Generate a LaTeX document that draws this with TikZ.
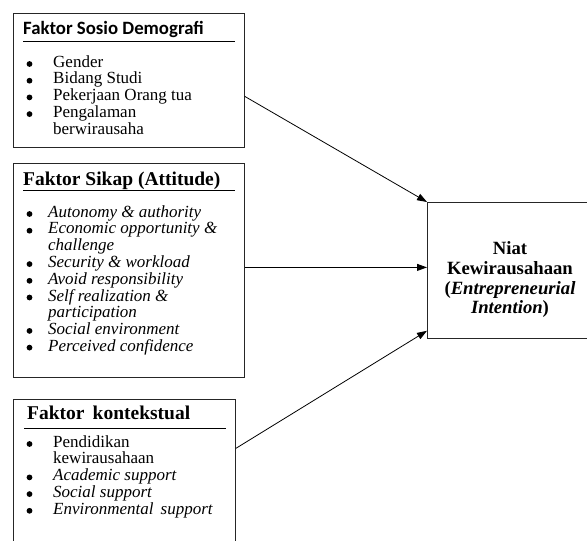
\documentclass[tikz,border=0pt]{standalone}
\usepackage{fontspec}
\setmainfont{Liberation Serif}
\newfontfamily\judulsans{Carlito}
\usepackage{tikz}
\usetikzlibrary{arrows.meta,positioning}

\begin{document}
\begin{tikzpicture}[x=1pt,y=-1pt,
    faktor/.style={draw=black!85,line width=0.8pt,anchor=north west,inner sep=0pt},
    judul/.style={anchor=base west,inner sep=0pt,font=\fontsize{19.5}{20}\selectfont\bfseries},
    butir/.style={anchor=base west,inner sep=0pt,font=\fontsize{17}{16.7}\selectfont},
    garis/.style={line width=0.8pt},
    panah/.style={-{Triangle[length=10pt,width=7pt]},line width=0.8pt}]
    \clip (0,0) rectangle (587,541);
    % kotak faktor
    \node[faktor,minimum width=231pt,minimum height=134pt] (sosio) at (13,13) {};
    \node[faktor,minimum width=231pt,minimum height=214pt] (sikap) at (13,163) {};
    \node[faktor,minimum width=222pt,minimum height=160pt] (konteks) at (13,399) {};
    \node[faktor,minimum width=166pt,minimum height=136pt] (niat) at (427,202) {};
    % judul
    \node[judul,font=\fontsize{18.8}{20}\selectfont\judulsans\bfseries] (sosiojudul) at (23,34) {Faktor Sosio Demografi};
    \node[judul] (sikapjudul) at (23,185) {Faktor Sikap (Attitude)};
    \node[judul] (kontekjudul) at (27,419) {Faktor\, kontekstual};
    \draw[garis] (23,41) -- (235,41);
    \draw[garis] (23,190) -- (235,190);
    \draw[garis] (24,428) -- (226,428);
    % butir
    \node[butir] (sosiolist) at (53,67) {\begin{tabular}[t]{@{}l@{}}
        Gender\\
        Bidang Studi\\
        Pekerjaan Orang tua\\
        Pengalaman\\
        berwirausaha
    \end{tabular}};
    \node[butir] (sikaplist) at (48,217) {\begin{tabular}[t]{@{}l@{}}
        \textit{Autonomy \& authority}\\
        \textit{Economic opportunity \&}\\
        \textit{challenge}\\
        \textit{Security \& workload}\\
        \textit{Avoid responsibility}\\
        \textit{Self realization \&}\\
        \textit{participation}\\
        \textit{Social environment}\\
        \textit{Perceived confidence}
    \end{tabular}};
    \node[butir] (konteklist) at (53,447) {\begin{tabular}[t]{@{}l@{}}
        Pendidikan\\
        kewirausahaan\\
        \textit{Academic support}\\
        \textit{Social support}\\
        \textit{Environmental\, support}
    \end{tabular}};
    % titik butir
    \foreach \y in {64,80.7,97.4,114.1,214,230.7,264.1,280.8,297.5,330.9,347.6,444,477.4,494.1,510.8}
        \fill (29.5,\y) circle[radius=2.9pt];
    % hasil
    \node[anchor=north,inner sep=0pt,align=center,font=\fontsize{18.7}{19.7}\selectfont\bfseries] (niatteks) at (510,241.5)
        {Niat\\ Kewirausahaan\\ (\textit{Entrepreneurial}\\ \textit{Intention})};
    % panah
    \draw[panah] ([yshift=-16pt]sosio.east) -- (niat.north west);
    \draw[panah] ([yshift=3pt]sikap.east) -- ([yshift=3pt]niat.west);
    \draw[panah] ([yshift=31pt]konteks.east) -- ([yshift=8pt]niat.south west);
\end{tikzpicture}
\end{document}
